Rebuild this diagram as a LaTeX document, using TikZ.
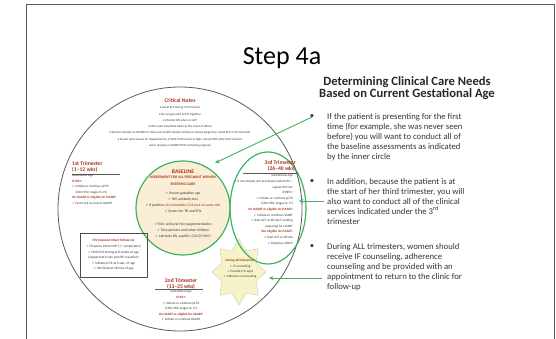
\documentclass[tikz,border=0pt]{standalone}
\usepackage{fontspec}
\setmainfont{Carlito}
\newfontfamily\symbolfont{DejaVu Sans}
\usetikzlibrary{arrows.meta,calc,positioning,shapes.geometric}
\definecolor{ringgreen}{RGB}{62,178,98}
\definecolor{basefill}{RGB}{250,238,214}
\definecolor{starfill}{RGB}{246,243,200}
\definecolor{notered}{RGB}{164,50,24}
\definecolor{bodygray}{RGB}{52,52,52}
\definecolor{framegray}{RGB}{90,90,90}
\newcommand{\ck}{{\symbolfont ✓}\,}
\newcommand{\red}[1]{{\color{notered}\bfseries #1}}
\tikzset{pin/.style={-{Stealth[length=4.5pt,width=4pt]}, ringgreen, line width=0.9pt},
  ring/.style={draw=ringgreen, line width=1.2pt},
  smallprint/.style={font=\fontsize{3.3}{#1}\selectfont, text=bodygray, inner sep=0pt, align=center},
  smallprint/.default=5.6,
  hd/.style={font=\fontsize{5.6}{5.6}\selectfont\bfseries, text=notered, inner sep=0pt, align=center},
  rule/.style={draw=framegray, line width=0.6pt},
  bul/.style={font=\fontsize{8.7}{10}\selectfont, text=bodygray, inner sep=0pt, align=left, anchor=north west}}

\begin{document}
\begin{tikzpicture}[x=1pt, y=1pt]
  \useasboundingbox (0,0) rectangle (556,339);
  % slide frame, runs off the bottom
  \draw[framegray, line width=0.9pt] (26,-3) rectangle (554,335);
  \node[font=\fontsize{26}{28}\selectfont, anchor=base] (title) at (282,274) {Step 4a};

  % the care circle: outer ring, baseline disc, 3rd trimester ring, all-trimester star
  \node[circle, draw=framegray, line width=0.8pt, minimum size=244pt] (outer) at (180,130) {};
  \node[circle, ring, fill=basefill, minimum size=94pt] (base) at (183,131) {};
  \node[star, star points=8, star point ratio=1.45, fill=starfill, draw=starfill!80!black,
    line width=0.3pt, minimum size=54pt, inner sep=0pt, transform shape, yscale=1.22] (allt) at (239,67) {};
  \node[ellipse, ring, minimum width=76pt, minimum height=112pt] (trd) at (268,131) {};

  % critical notes across the top
  \node[hd] (crit) at (180,238) {Critical Notes};
  \node[smallprint=6.3, font=\fontsize{3.1}{6.3}\selectfont, anchor=north] (critx) at (180,232.6) {%
    • Avoid EFV during 1st trimester\\
    • Do not give AZT \& d4T together\\
    • Monitor Hb when on AZT\\
    • CD4 count should be taken at the onset of labour\\
    • Women already on HAART for their own health should continue it during pregnancy; avoid EFV in 1st trimester\\
    • Screen and counsel for hepatotoxicity of NVP if CD4 count is high; consult ARC after first trimester\\
    and is already on HAART NVP-containing regimen};

  % 1st trimester
  \node[hd, align=left, anchor=north west] (t1h) at (72,177.5) {1st Trimester\\(1--12 wks)};
  \draw[rule] ($(t1h.south west)+(0,-2)$) -- ++(48,0);
  \node[smallprint=5.5, align=left, anchor=north west] (t1x) at (72,164.6) {%
    Gestational Age\\
    \red{If HIV+:}\\
    \ck Initiate or continue pCTX\\
    \quad(CD4<350; stages III, IV)\\
    \red{On HAART or eligible for HAART:}\\
    \ck Fast track to receive HAART};

  % baseline
  \node[hd] (baseh) at (183,167) {BASELINE};
  \node[smallprint=6.2, font=\fontsize{3.7}{6.2}\selectfont, anchor=north] (basex) at (183,162.8) {%
    \red{ASSESSMENT FOR ALL PREGNANT WOMEN}\\
    \red{ENTERING CARE}\\[3pt]
    \ck Known gestation age\\
    \ck HIV antibody test\\
    \ck If positive, {\color{notered}do immediate CD4 test on same visit}\\
    \ck Screen for TB and STIs\\[6pt]
    \ck Folic acid and iron supplementation\\
    \ck Test partners and other children\\
    \ck Lab tests Hb, syphilis, CD4 (if HIV+)};

  % infant follow-up box
  \node[draw=black!70, line width=0.6pt, minimum width=67pt, minimum height=44pt,
    smallprint=5.6, font=\fontsize{3.4}{5.6}\selectfont] (infant) at (113.5,84) {%
    \red{HIV Exposed Infant Follow-Up}\\
    \ck Dispense infant NVP (+/- prophylaxis)\\
    \ck DNA PCR testing at 6 weeks of age\\
    (repeat test 6 wks post BF cessation)\\
    \ck Initiate pCTX at 6 wks. of age\\
    \ck HIV ELISA at 18 mos of age};

  % 2nd trimester
  \node[hd, anchor=north] (t2h) at (181,60.5) {2nd Trimester\\(13--25 wks)};
  \draw[rule] (155,50) -- (203,50);
  \node[smallprint, anchor=north] (t2x) at (181,48.6) {%
    Gestational Age\\
    \red{If HIV+:}\\
    \ck Initiate or continue pCTX\\
    (CD4<350; stages III, IV)\\
    \red{On HAART or eligible for HAART:}\\
    \ck Initiate or continue HAART};

  % 3rd trimester
  \node[hd, align=right, anchor=north east] (t3h) at (296,178.5) {3rd Trimester\\(26--40 wks)};
  \draw[rule] ($(t3h.south east)+(2,-2)$) -- ++(-55,0);
  \node[smallprint, align=right, anchor=north east] (t3x) at (293,164.6) {%
    Gestational Age\\
    \ck If not already and previously tested HIV--,\\
    repeat HIV test\\
    \red{If HIV+:}\\
    \ck Initiate or continue pCTX\\
    (CD4<350; stages III, IV)\\
    \red{On HAART or eligible for HAART:}\\
    \ck Initiate or continue HAART\\
    \ck Start AZT at 28 wks if waiting\\
    preparing for HAART\\
    \red{Not eligible for HAART:}\\
    \ck Start AZT at 28 wks\\
    \ck Dispense sdNVP};

  % all trimesters
  \node[smallprint=5.3, anchor=north] (alltx) at (240,79.6) {%
    \red{During all trimesters:}\\
    \ck IF counseling\\
    \ck Provide F/U appt\\
    \ck Adherence counseling};

  % right-hand explanation
  \node[font=\fontsize{12.6}{12}\selectfont\bfseries, text=black!85, align=center, anchor=north] (head) at (407,266)
    {Determining Clinical Care Needs\\Based on Current Gestational Age};
  \node[bul] (b1) at (327,225.5) {If the patient is presenting for the first\\
    time (for example, she was never seen\\
    before) you will want to conduct all of\\
    the baseline assessments as indicated\\
    by the inner circle};
  \node[bul] (b2) at (327,160.5) {In addition, because the patient is at\\
    the start of her third trimester, you will\\
    also want to conduct all of the clinical\\
    services indicated under the 3\textsuperscript{rd}\\
    trimester};
  \node[bul] (b3) at (327,95.5) {During ALL trimesters, women should\\
    receive IF counseling, adherence\\
    counseling and be provided with an\\
    appointment to return to the clinic for\\
    follow-up};
  \foreach \b in {b1,b2,b3}
    \node[font=\fontsize{8.7}{10}\selectfont, text=bodygray, inner sep=0pt] (d\b) at ($(\b.north west)+(-15,-3.5)$) {\textbullet};

  % pointers into the circle
  \coordinate (h1) at ($(base.center)+(32,45)$);
  \draw[pin] (db1.center) -- (h1);
  \coordinate (t2) at (324,138);
  \coordinate (h2) at (299,138);
  \draw[pin] (t2) -- (h2);
  \coordinate (t3) at (322,61);
  \coordinate (h3) at (269,61);
  \draw[pin] (t3) -- (h3);
\end{tikzpicture}
\end{document}
